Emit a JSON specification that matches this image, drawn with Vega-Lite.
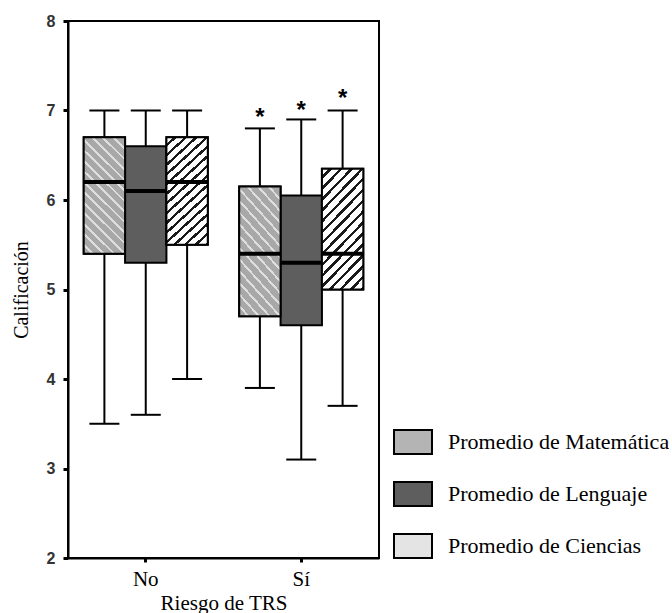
{
  "$schema": "https://vega.github.io/schema/vega-lite/v6.json",
  "autosize": "none",
  "padding": {"left": 68, "top": 21, "right": 293, "bottom": 55},
  "width": 311,
  "height": 537,
  "background": "white",
  "config": {
    "view": {"stroke": "black", "strokeWidth": 2},
    "font": "Liberation Serif"
  },
  "data": {
    "values": [
      {"riesgo": "No", "serie": "Promedio de Matemática", "lower": 3.5, "q1": 5.4, "median": 6.2, "q3": 6.7, "upper": 7.0, "outlier": null},
      {"riesgo": "No", "serie": "Promedio de Lenguaje", "lower": 3.6, "q1": 5.3, "median": 6.1, "q3": 6.6, "upper": 7.0, "outlier": null},
      {"riesgo": "No", "serie": "Promedio de Ciencias", "lower": 4.0, "q1": 5.5, "median": 6.2, "q3": 6.7, "upper": 7.0, "outlier": null},
      {"riesgo": "Sí", "serie": "Promedio de Matemática", "lower": 3.9, "q1": 4.7, "median": 5.4, "q3": 6.15, "upper": 6.8, "outlier": 6.98},
      {"riesgo": "Sí", "serie": "Promedio de Lenguaje", "lower": 3.1, "q1": 4.6, "median": 5.3, "q3": 6.05, "upper": 6.9, "outlier": 7.06},
      {"riesgo": "Sí", "serie": "Promedio de Ciencias", "lower": 3.7, "q1": 5.0, "median": 5.4, "q3": 6.35, "upper": 7.0, "outlier": 7.2}
    ]
  },
  "encoding": {
    "x": {
      "field": "riesgo", "type": "nominal", "sort": ["No", "Sí"],
      "scale": {"paddingInner": 0, "paddingOuter": 0},
      "axis": {
        "title": "Riesgo de TRS", "titleFont": "Liberation Serif", "titleFontSize": 21, "titleFontWeight": "normal", "titleColor": "black", "titlePadding": 3,
        "labelAngle": 0, "labelFont": "Liberation Serif", "labelFontSize": 21, "labelColor": "black", "labelPadding": 6,
        "domainColor": "black", "domainWidth": 2, "tickColor": "black", "tickWidth": 3, "tickSize": 4, "grid": false
      }
    },
    "xOffset": {
      "field": "serie", "type": "nominal",
      "sort": ["Promedio de Matemática", "Promedio de Lenguaje", "Promedio de Ciencias"],
      "scale": {"paddingInner": 0, "paddingOuter": 0.38}
    }
  },
  "layer": [
    {
      "mark": {"type": "rule", "color": "black", "strokeWidth": 2},
      "encoding": {
        "y": {
          "field": "lower", "type": "quantitative",
          "scale": {"domain": [2, 8], "nice": false, "zero": false},
          "axis": {
            "title": "Calificación", "titleFont": "Liberation Serif", "titleFontSize": 20, "titleFontWeight": "normal", "titleColor": "black", "titlePadding": 15,
            "values": [2, 3, 4, 5, 6, 7, 8], "format": "d", "labelFont": "Liberation Sans", "labelFontWeight": "bold", "labelFontSize": 16, "labelColor": "#333333", "labelPadding": 8,
            "domainColor": "black", "domainWidth": 2, "tickColor": "black", "tickWidth": 3, "tickSize": 5, "grid": false
          }
        },
        "y2": {"field": "upper"}
      }
    },
    {
      "mark": {"type": "tick", "color": "black", "thickness": 2, "size": 30, "opacity": 1},
      "encoding": {"y": {"field": "upper", "type": "quantitative"}}
    },
    {
      "mark": {"type": "tick", "color": "black", "thickness": 2, "size": 30, "opacity": 1},
      "encoding": {"y": {"field": "lower", "type": "quantitative"}}
    },
    {
      "mark": {"type": "bar", "strokeWidth": 2, "width": {"band": 1}, "opacity": 1},
      "encoding": {
        "y": {"field": "q1", "type": "quantitative"},
        "y2": {"field": "q3"},
        "fill": {
          "field": "serie", "type": "nominal",
          "sort": ["Promedio de Matemática", "Promedio de Lenguaje", "Promedio de Ciencias"],
          "scale": {
            "domain": ["Promedio de Matemática", "Promedio de Lenguaje", "Promedio de Ciencias"],
            "range": ["#b4b4b4", "#5e5e5e", "#e4e4e4"]
          },
          "legend": {
            "title": null, "orient": "none", "legendX": 325, "legendY": 401,
            "symbolType": "M-1,-0.63H1V0.63H-1Z", "symbolSize": 1444, "symbolStrokeWidth": 2, "symbolOpacity": 1,
            "rowPadding": 16, "labelOffset": 15, "labelFont": "Liberation Serif", "labelFontSize": 22, "labelColor": "black", "labelLimit": 400, "padding": 0
          }
        },
        "stroke": {
          "field": "serie", "type": "nominal",
          "sort": ["Promedio de Matemática", "Promedio de Lenguaje", "Promedio de Ciencias"],
          "scale": {
            "domain": ["Promedio de Matemática", "Promedio de Lenguaje", "Promedio de Ciencias"],
            "range": ["#000000", "#000000", "#000000"]
          },
          "legend": {
            "title": null, "orient": "none", "legendX": 325, "legendY": 401,
            "symbolType": "M-1,-0.63H1V0.63H-1Z", "symbolSize": 1444, "symbolStrokeWidth": 2, "symbolOpacity": 1,
            "rowPadding": 16, "labelOffset": 15, "labelFont": "Liberation Serif", "labelFontSize": 22, "labelColor": "black", "labelLimit": 400, "padding": 0
          }
        }
      }
    },
    {
      "transform": [{"filter": "datum.serie === 'Promedio de Matemática'"}],
      "mark": {"type": "bar", "stroke": "black", "strokeWidth": 2, "width": {"band": 1}, "opacity": 1,
        "fill": {"gradient": "linear", "x1": 0, "y1": 1, "x2": 0.425, "y2": -0.203, "stops": [
          {"offset": 0, "color": "#a8a8a8"}, {"offset": 0.05, "color": "#a8a8a8"}, {"offset": 0.05, "color": "#dedede"}, {"offset": 0.0667, "color": "#dedede"},
          {"offset": 0.0667, "color": "#a8a8a8"}, {"offset": 0.1167, "color": "#a8a8a8"}, {"offset": 0.1167, "color": "#dedede"}, {"offset": 0.1333, "color": "#dedede"},
          {"offset": 0.1333, "color": "#a8a8a8"}, {"offset": 0.1833, "color": "#a8a8a8"}, {"offset": 0.1833, "color": "#dedede"}, {"offset": 0.2, "color": "#dedede"},
          {"offset": 0.2, "color": "#a8a8a8"}, {"offset": 0.25, "color": "#a8a8a8"}, {"offset": 0.25, "color": "#dedede"}, {"offset": 0.2667, "color": "#dedede"},
          {"offset": 0.2667, "color": "#a8a8a8"}, {"offset": 0.3167, "color": "#a8a8a8"}, {"offset": 0.3167, "color": "#dedede"}, {"offset": 0.3333, "color": "#dedede"},
          {"offset": 0.3333, "color": "#a8a8a8"}, {"offset": 0.3833, "color": "#a8a8a8"}, {"offset": 0.3833, "color": "#dedede"}, {"offset": 0.4, "color": "#dedede"},
          {"offset": 0.4, "color": "#a8a8a8"}, {"offset": 0.45, "color": "#a8a8a8"}, {"offset": 0.45, "color": "#dedede"}, {"offset": 0.4667, "color": "#dedede"},
          {"offset": 0.4667, "color": "#a8a8a8"}, {"offset": 0.5167, "color": "#a8a8a8"}, {"offset": 0.5167, "color": "#dedede"}, {"offset": 0.5333, "color": "#dedede"},
          {"offset": 0.5333, "color": "#a8a8a8"}, {"offset": 0.5833, "color": "#a8a8a8"}, {"offset": 0.5833, "color": "#dedede"}, {"offset": 0.6, "color": "#dedede"},
          {"offset": 0.6, "color": "#a8a8a8"}, {"offset": 0.65, "color": "#a8a8a8"}, {"offset": 0.65, "color": "#dedede"}, {"offset": 0.6667, "color": "#dedede"},
          {"offset": 0.6667, "color": "#a8a8a8"}, {"offset": 0.7167, "color": "#a8a8a8"}, {"offset": 0.7167, "color": "#dedede"}, {"offset": 0.7333, "color": "#dedede"},
          {"offset": 0.7333, "color": "#a8a8a8"}, {"offset": 0.7833, "color": "#a8a8a8"}, {"offset": 0.7833, "color": "#dedede"}, {"offset": 0.8, "color": "#dedede"},
          {"offset": 0.8, "color": "#a8a8a8"}, {"offset": 0.85, "color": "#a8a8a8"}, {"offset": 0.85, "color": "#dedede"}, {"offset": 0.8667, "color": "#dedede"},
          {"offset": 0.8667, "color": "#a8a8a8"}, {"offset": 0.9167, "color": "#a8a8a8"}, {"offset": 0.9167, "color": "#dedede"}, {"offset": 0.9333, "color": "#dedede"},
          {"offset": 0.9333, "color": "#a8a8a8"}, {"offset": 0.9833, "color": "#a8a8a8"}, {"offset": 0.9833, "color": "#dedede"}, {"offset": 1, "color": "#dedede"}
        ]}
      },
      "encoding": {
        "y": {"field": "q1", "type": "quantitative"},
        "y2": {"field": "q3"}
      }
    },
    {
      "transform": [{"filter": "datum.serie === 'Promedio de Ciencias'"}],
      "mark": {"type": "bar", "stroke": "black", "strokeWidth": 2, "width": {"band": 1}, "opacity": 1,
        "fill": {"gradient": "linear", "x1": 0, "y1": 0, "x2": 0.425, "y2": 1.203, "stops": [
          {"offset": 0, "color": "#ffffff"}, {"offset": 0.045, "color": "#ffffff"}, {"offset": 0.045, "color": "#1a1a1a"}, {"offset": 0.0667, "color": "#1a1a1a"},
          {"offset": 0.0667, "color": "#ffffff"}, {"offset": 0.1117, "color": "#ffffff"}, {"offset": 0.1117, "color": "#1a1a1a"}, {"offset": 0.1333, "color": "#1a1a1a"},
          {"offset": 0.1333, "color": "#ffffff"}, {"offset": 0.1783, "color": "#ffffff"}, {"offset": 0.1783, "color": "#1a1a1a"}, {"offset": 0.2, "color": "#1a1a1a"},
          {"offset": 0.2, "color": "#ffffff"}, {"offset": 0.245, "color": "#ffffff"}, {"offset": 0.245, "color": "#1a1a1a"}, {"offset": 0.2667, "color": "#1a1a1a"},
          {"offset": 0.2667, "color": "#ffffff"}, {"offset": 0.3117, "color": "#ffffff"}, {"offset": 0.3117, "color": "#1a1a1a"}, {"offset": 0.3333, "color": "#1a1a1a"},
          {"offset": 0.3333, "color": "#ffffff"}, {"offset": 0.3783, "color": "#ffffff"}, {"offset": 0.3783, "color": "#1a1a1a"}, {"offset": 0.4, "color": "#1a1a1a"},
          {"offset": 0.4, "color": "#ffffff"}, {"offset": 0.445, "color": "#ffffff"}, {"offset": 0.445, "color": "#1a1a1a"}, {"offset": 0.4667, "color": "#1a1a1a"},
          {"offset": 0.4667, "color": "#ffffff"}, {"offset": 0.5117, "color": "#ffffff"}, {"offset": 0.5117, "color": "#1a1a1a"}, {"offset": 0.5333, "color": "#1a1a1a"},
          {"offset": 0.5333, "color": "#ffffff"}, {"offset": 0.5783, "color": "#ffffff"}, {"offset": 0.5783, "color": "#1a1a1a"}, {"offset": 0.6, "color": "#1a1a1a"},
          {"offset": 0.6, "color": "#ffffff"}, {"offset": 0.645, "color": "#ffffff"}, {"offset": 0.645, "color": "#1a1a1a"}, {"offset": 0.6667, "color": "#1a1a1a"},
          {"offset": 0.6667, "color": "#ffffff"}, {"offset": 0.7117, "color": "#ffffff"}, {"offset": 0.7117, "color": "#1a1a1a"}, {"offset": 0.7333, "color": "#1a1a1a"},
          {"offset": 0.7333, "color": "#ffffff"}, {"offset": 0.7783, "color": "#ffffff"}, {"offset": 0.7783, "color": "#1a1a1a"}, {"offset": 0.8, "color": "#1a1a1a"},
          {"offset": 0.8, "color": "#ffffff"}, {"offset": 0.845, "color": "#ffffff"}, {"offset": 0.845, "color": "#1a1a1a"}, {"offset": 0.8667, "color": "#1a1a1a"},
          {"offset": 0.8667, "color": "#ffffff"}, {"offset": 0.9117, "color": "#ffffff"}, {"offset": 0.9117, "color": "#1a1a1a"}, {"offset": 0.9333, "color": "#1a1a1a"},
          {"offset": 0.9333, "color": "#ffffff"}, {"offset": 0.9783, "color": "#ffffff"}, {"offset": 0.9783, "color": "#1a1a1a"}, {"offset": 1, "color": "#1a1a1a"}
        ]}
      },
      "encoding": {
        "y": {"field": "q1", "type": "quantitative"},
        "y2": {"field": "q3"}
      }
    },
    {
      "mark": {"type": "tick", "color": "black", "thickness": 4, "size": 41, "opacity": 1},
      "encoding": {"y": {"field": "median", "type": "quantitative"}}
    },
    {
      "transform": [{"filter": "isValid(datum.outlier)"}],
      "mark": {"type": "text", "text": "*", "font": "Liberation Sans", "fontSize": 24, "fontWeight": "bold", "baseline": "middle", "dy": 6, "color": "black"},
      "encoding": {"y": {"field": "outlier", "type": "quantitative"}}
    }
  ]
}
